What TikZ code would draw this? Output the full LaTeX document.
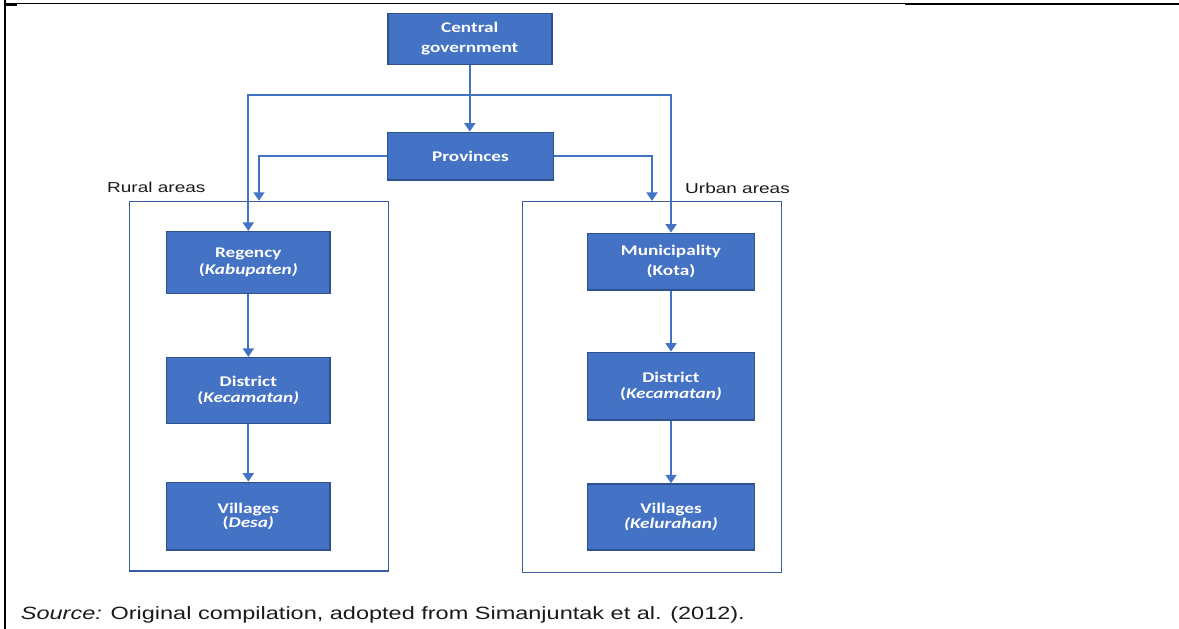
\documentclass[tikz,border=0pt]{standalone}
\usepackage{fontspec}
\setmainfont{Liberation Sans}[FakeStretch=1.32]
\newfontfamily\boxfont{Carlito}[FakeStretch=1.3]
\usetikzlibrary{arrows.meta}
\definecolor{boxfill}{HTML}{4472C4}
\definecolor{boxedge}{HTML}{2F528F}
\definecolor{areaedge}{HTML}{3A5D9C}
\definecolor{linkblue}{HTML}{4472C4}
\definecolor{inkblack}{HTML}{1A1A1A}

\begin{document}
\begin{tikzpicture}[x=1pt,y=-1pt,
  >={Triangle[width=11pt,length=8.5pt]},
  govbox/.style={draw=boxedge, line width=1.5pt, fill=boxfill, text=white,
    inner sep=0pt, align=center, minimum width=164pt,
    font=\boxfont\bfseries\fontsize{14.8}{15}\selectfont},
  regionbox/.style={draw=areaedge, line width=1.5pt, inner sep=0pt,
    minimum width=259.4pt},
  connector/.style={draw=linkblue, line width=1.8pt, ->},
  arealabel/.style={anchor=base west, inner sep=0pt, text=inkblack,
    font=\fontsize{14.4}{17}\selectfont},
]
\useasboundingbox (0,0) rectangle (1179,629);

% page frame
\draw[line width=2pt] (5,0) -- (5,629);
\draw[line width=2pt] (4,4.8) -- (17,4.8);
\draw[line width=1pt] (5,3.5) -- (905,3.5);
\draw[line width=2pt] (905,4) -- (1179,4);

% rural and urban containers
\node[regionbox, minimum height=369.5pt] (rural) at (259,386.25) {};
\node[regionbox, minimum height=371pt] (urban) at (652,387.2) {};
\node[arealabel] (rurallbl) at (107,192.3) {Rural areas};
\node[arealabel] (urbanlbl) at (685,193.3) {Urban areas};

% national and provincial level
\node[govbox, minimum height=51pt] (cg) at (469.8,38.8) {Central\\[4.5pt]government};
\node[govbox, minimum width=165.6pt, minimum height=47.7pt] (prov) at (470.5,156.2) {Provinces};

% rural hierarchy
\node[govbox, minimum width=163.3pt, minimum height=61.6pt] (reg) at (248.3,262.5)
  {Regency\\[2.3pt](\textit{Kabupaten)}};
\node[govbox, minimum width=163.3pt, minimum height=65.6pt] (distL) at (248.3,390.5)
  {District\\[0.3pt](\textit{Kecamatan)}};
\node[govbox, minimum width=163.3pt, minimum height=67.7pt] (vilL) at (248.3,516.2)
  {Villages\\[-0.5pt](\textit{Desa)}};

% urban hierarchy
\node[govbox, minimum width=166.6pt, minimum height=56.7pt] (mun) at (671,261.7)
  {Municipality\\[5pt](Kota)};
\node[govbox, minimum width=166.6pt, minimum height=67.7pt] (distR) at (671,386.2)
  {District\\[0.6pt](\textit{Kecamatan)}};
\node[govbox, minimum width=166.6pt, minimum height=66pt] (vilR) at (671,517)
  {Villages\\[0pt]\textit{(Kelurahan)}};

% connectors
\coordinate (split) at (470.5,95);
\draw[connector] (cg.south) -- (cg.south |- prov.north);
\draw[connector,<->] (reg.north) |- (split) -| (mun.north);
\draw[connector] (prov.west) -| (rural.north);
\draw[connector] (prov.east) -| (urban.north);
\draw[connector] (reg) -- (distL);
\draw[connector] (distL) -- (vilL);
\draw[connector] (mun) -- (distR);
\draw[connector] (distR) -- (vilR);

% source line
\node[anchor=base west, inner sep=0pt, text=inkblack, font=\fontsize{17.8}{20}\selectfont]
  (src) at (20.7,619) {\textit{Source:} Original compilation, adopted from Simanjuntak et al. (2012).};
\end{tikzpicture}
\end{document}
